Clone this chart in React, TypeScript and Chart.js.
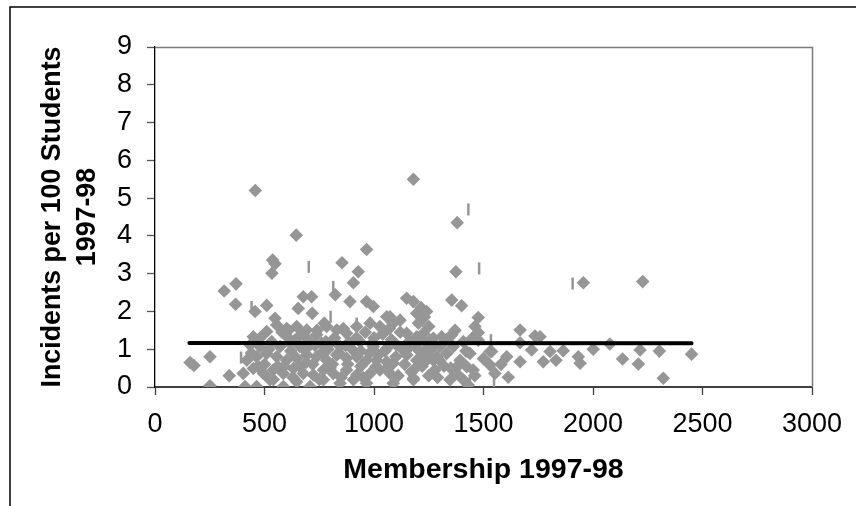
import React, { useEffect, useRef } from 'react';
import { Chart, registerables } from 'chart.js';

Chart.register(...registerables);

// ---- data ----
const membership = [
  160, 178, 251, 251, 339, 316, 370, 368, 458, 645, 537, 548, 534, 966, 1180, 854, 928, 906, 823, 457,
  510, 548, 677, 715, 654, 718, 773, 890, 966, 997, 1058, 1088, 1149, 1180, 1195, 1203, 1225, 1271, 1180, 1278,
  1380, 1374, 1956, 2227, 1355, 1400, 1476, 1667, 1735, 1758, 1309, 1355, 1476, 1667, 2077, 1720, 1804, 1864, 2001, 2215,
  2303, 2450, 1537, 1667, 1773, 1831, 1933, 1941, 2135, 2207, 1606, 1613, 2321, 1530, 1552, 1347,
  1362, 1408, 1438, 1393, 1423, 1377, 1408, 1453, 1332, 1301, 1256, 1240, 1225, 1271, 1476, 1461, 1530, 1500, 1580, 1430,
  1460, 1320, 1290, 1250, 1230, 1215, 1240, 1230,
  449, 510, 556, 601, 647, 693, 738, 784, 830, 875, 921, 982, 1027, 1073, 1119, 1149, 1195,
  434, 479, 533, 571, 616, 662, 708, 761, 807, 845, 890, 936, 997, 1058, 1103, 1164, 1210, 1256,
  419, 464, 510, 556, 601, 647, 693, 738, 784, 830, 875, 921, 966, 1012, 1058, 1088, 1195, 1240, 1286,
  403, 449, 495, 540, 586, 632, 677, 723, 769, 814, 875, 921, 982, 1027, 1073,
  411, 464, 525, 586, 647, 708, 769, 845, 906, 966, 1088, 1180,
  480, 520, 560, 600, 620, 640, 660, 680, 700, 720, 740, 760, 780, 800, 820, 840, 860, 880, 900, 920,
  940, 960, 980, 1000, 1020, 1040, 1060, 1080, 1100, 1120, 1140, 1160, 1200, 1220, 1260, 1300, 1330, 1350, 1420, 1450,
  500, 540, 580, 630, 670, 750, 790, 850, 870, 950, 1010, 1050, 1110, 1130, 1170, 1250, 440, 470, 590, 610,
  690, 730, 810, 940, 990, 1070, 1150, 1190, 1370, 1390,
];

const incidentsPer100 = [
  0.65, 0.57, 0.8, 0.03, 0.3, 2.54, 2.73, 2.19, 5.2, 4.02, 3.36, 3.26, 3.01, 3.64, 5.5, 3.29, 3.05, 2.76, 2.44, 2.0,
  2.16, 1.82, 2.39, 2.39, 2.08, 1.95, 1.69, 2.26, 2.26, 2.13, 1.86, 1.69, 2.35, 2.26, 1.95, 1.69, 1.42, 1.29, 0.23, 0.45,
  4.35, 3.05, 2.76, 2.79, 2.3, 2.15, 1.84, 1.51, 1.35, 1.33, 1.33, 1.38, 1.44, 1.17, 1.14, 0.98, 0.94, 0.96, 1.0, 0.98,
  0.95, 0.87, 0.94, 0.67, 0.67, 0.71, 0.8, 0.63, 0.74, 0.61, 0.8, 0.26, 0.23, 0.58, 0.36, 0.19,
  1.07, 1.2, 0.89, 0.71, 0.54, 0.36, 0.19, 0.45, 0.89, 1.07, 1.24, 0.71, 0.89, 0.71, 1.24, 1.6, 0.94, 0.75, 0.6, 0.05,
  0.3, 0.55, 0.25, 1.6, 1.85, 2.1, 2.0, 1.2,
  1.33, 1.47, 1.64, 1.55, 1.6, 1.51, 1.38, 1.6, 1.51, 1.42, 1.6, 1.69, 1.6, 1.86, 1.77, 1.42, 1.33,
  1.11, 1.07, 1.2, 1.07, 1.16, 1.07, 1.11, 1.16, 1.2, 1.07, 1.16, 1.2, 1.07, 1.02, 1.11, 1.07, 0.94, 0.98,
  0.71, 0.8, 0.89, 0.8, 0.71, 0.76, 0.85, 0.8, 0.71, 0.85, 0.76, 0.8, 0.71, 0.71, 0.67, 0.63, 0.71, 0.8, 0.8,
  0.36, 0.49, 0.36, 0.45, 0.36, 0.49, 0.36, 0.32, 0.45, 0.36, 0.45, 0.32, 0.36, 0.45, 0.36,
  0.01, 0.01, 0.19, 0.01, 0.14, 0.01, 0.19, 0.1, 0.19, 0.1, 0.1, 0.19,
  1.3, 1.0, 0.55, 1.35, 0.95, 1.25, 0.55, 1.0, 1.25, 0.6, 1.5, 0.9, 1.2, 0.5, 1.3, 0.9, 1.55, 0.6, 1.0, 1.3,
  0.55, 1.45, 0.9, 1.3, 0.85, 1.4, 0.5, 1.25, 0.8, 1.45, 0.6, 1.2, 1.0, 0.55, 1.05, 0.7, 1.25, 0.5, 0.95, 1.3,
  0.6, 0.2, 1.45, 0.25, 1.4, 0.2, 1.0, 0.25, 1.1, 0.25, 0.55, 0.95, 0.3, 1.0, 0.4, 0.3, 0.9, 0.55, 0.55, 1.5,
  0.65, 1.1, 0.6, 0.95, 1.15, 1.55, 0.85, 0.5, 1.5, 0.6,
];

// short vertical dash markers
const dashMembership = [393, 702, 814, 441, 802, 1431, 1480, 1907, 1534, 1438, 1548, 921];
const dashIncidents = [0.78, 3.18, 2.65, 2.12, 1.86, 4.7, 3.14, 2.74, 1.24, 0.14, 0.1, 1.68];

// linear trend line end points
const trendMembership = [157, 2450];
const trendIncidents = [1.165, 1.155];

const xTickValues = [0, 500, 1000, 1500, 2000, 2500, 3000];
const yTickValues = [0, 1, 2, 3, 4, 5, 6, 7, 8, 9];

const xTitle = 'Membership 1997-98';
const yTitle = ['Incidents per 100 Students', '1997-98'];

const FONT = '"Liberation Sans", Arial, sans-serif';
const MARK = '#969696';

const PLOT = { left: 155, top: 47, right: 812, bottom: 387 };
const W = 856;
const H = 506;

const framePlugin = {
  id: 'frame',
  beforeDraw(chart: any) {
    const ctx = chart.ctx;
    ctx.save();
    ctx.fillStyle = '#ffffff';
    ctx.fillRect(0, 0, chart.width, chart.height);
    ctx.restore();
  },
  afterDraw(chart: any) {
    const ctx = chart.ctx;
    const a = chart.chartArea;
    ctx.save();
    // plot area top and right border
    ctx.strokeStyle = '#7a7a7a';
    ctx.lineWidth = 1.5;
    ctx.beginPath();
    ctx.moveTo(a.left, a.top + 0.5);
    ctx.lineTo(a.right + 0.5, a.top + 0.5);
    ctx.lineTo(a.right + 0.5, a.bottom);
    ctx.stroke();
    // outer chart frame
    ctx.strokeStyle = '#000000';
    ctx.lineWidth = 1.5;
    ctx.beginPath();
    ctx.moveTo(10, H + 2);
    ctx.lineTo(10, 7);
    ctx.lineTo(W + 2, 7);
    ctx.stroke();
    ctx.restore();
  },
};

export default function App() {
  const ref = useRef<HTMLCanvasElement | null>(null);

  useEffect(() => {
    document.body.style.margin = '0';
    const canvas = ref.current;
    if (!canvas) return;

    const points = membership.map((x, i) => ({ x, y: incidentsPer100[i] }));
    const dashes = dashMembership.map((x, i) => ({ x, y: dashIncidents[i] }));
    const trend = trendMembership.map((x, i) => ({ x, y: trendIncidents[i] }));

    const padLeft = 31;
    const padBottom = 14;

    const chart = new Chart(canvas, {
      type: 'scatter',
      data: {
        datasets: [
          {
            label: 'Trend',
            data: trend,
            showLine: true,
            borderColor: '#000000',
            borderWidth: 4,
            borderCapStyle: 'round',
            pointRadius: 0,
            fill: false,
          } as any,
          {
            label: 'Dashes',
            data: dashes,
            pointStyle: 'line',
            rotation: 90,
            pointRadius: 6,
            borderColor: MARK,
            backgroundColor: MARK,
            borderWidth: 2.5,
          } as any,
          {
            label: 'Schools',
            data: points,
            pointStyle: 'rectRot',
            pointRadius: 6.8,
            backgroundColor: MARK,
            borderColor: MARK,
            borderWidth: 0,
          } as any,
        ],
      },
      options: {
        responsive: false,
        animation: false,
        events: [],
        layout: {
          padding: { left: padLeft, top: PLOT.top, right: W - PLOT.right, bottom: padBottom },
        },
        plugins: {
          legend: { display: false },
          tooltip: { enabled: false },
        },
        scales: {
          x: {
            type: 'linear',
            min: 0,
            max: 3000,
            afterBuildTicks: (scale: any) => {
              scale.ticks = xTickValues.map((v) => ({ value: v }));
            },
            afterFit: (scale: any) => {
              scale.height = H - padBottom - PLOT.bottom;
            },
            ticks: {
              color: '#000000',
              font: { family: FONT, size: 27 },
              padding: 13,
              maxRotation: 0,
              callback: (v: any) => String(v),
            },
            grid: {
              drawOnChartArea: false,
              drawTicks: true,
              tickLength: 8,
              tickColor: '#404040',
              tickWidth: 1.3,
            },
            border: { color: '#404040', width: 2 },
            title: {
              display: true,
              text: xTitle,
              color: '#000000',
              font: { family: FONT, size: 28.5, weight: 'bold', lineHeight: 1.25 },
              padding: { top: 4, bottom: 4 },
            },
          },
          y: {
            type: 'linear',
            min: 0,
            max: 9,
            afterBuildTicks: (scale: any) => {
              scale.ticks = yTickValues.map((v) => ({ value: v }));
            },
            afterFit: (scale: any) => {
              scale.width = PLOT.left - padLeft;
            },
            ticks: {
              color: '#000000',
              font: { family: FONT, size: 27 },
              padding: 15,
              callback: (v: any) => String(v),
            },
            grid: {
              drawOnChartArea: false,
              drawTicks: true,
              tickLength: 8,
              tickColor: '#555555',
              tickWidth: 1.3,
            },
            border: { color: '#000000', width: 1.3 },
            title: {
              display: true,
              text: yTitle,
              color: '#000000',
              font: { family: FONT, size: 26.8, weight: 'bold', lineHeight: 1.3 },
              padding: { top: 4, bottom: 4 },
            },
          },
        },
      } as any,
      plugins: [framePlugin],
    });

    return () => {
      chart.destroy();
    };
  }, []);

  return (
    <canvas
      ref={ref}
      width={W}
      height={H}
      style={{ display: 'block', width: W + 'px', height: H + 'px' }}
    />
  );
}
